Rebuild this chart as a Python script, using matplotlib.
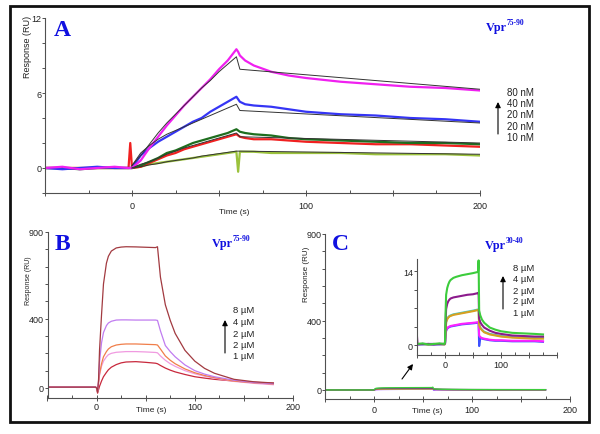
import matplotlib.pyplot as plt
import matplotlib.patches as patches
from matplotlib.ticker import MultipleLocator

plt.rcParams['font.family'] = ['Liberation Sans', 'DejaVu Sans']

# ---- panel A: Vpr75-90, nM series (RU vs s) ----
t_a = [-50, -40, -30, -20, -10, -2, -1, 0, 5, 10, 15, 20, 25, 30, 35, 40, 45, 50, 55,
       60, 61, 62, 65, 70, 80, 90, 100, 120, 140, 160, 180, 200]
a_80nM = [0, 0.1, -0.1, 0, 0.1, 0, 0, 0, 0.6, 1.6, 2.5, 3.4, 4.2, 5.0, 5.7, 6.4, 7.1, 7.9, 8.6,
          9.5, 9.3, 9.0, 8.6, 8.2, 7.7, 7.4, 7.2, 6.9, 6.7, 6.5, 6.4, 6.2]
a_40nM = [0, -0.1, 0, 0.1, 0, 0, 0, 0, 1.0, 1.6, 2.1, 2.5, 2.9, 3.3, 3.7, 4.0, 4.5, 4.9, 5.3,
          5.7, 5.5, 5.3, 5.1, 5.0, 4.9, 4.7, 4.5, 4.3, 4.2, 4.0, 3.9, 3.7]
a_20nM_g = [0, 0, -0.1, 0, 0, 0, 0, 0, 0.2, 0.5, 0.8, 1.2, 1.4, 1.7, 2.0, 2.2, 2.4, 2.6, 2.8,
            3.1, 3.0, 2.9, 2.8, 2.7, 2.6, 2.4, 2.3, 2.2, 2.1, 2.0, 2.0, 1.9]
a_20nM_r = [0, 0, 0, 0, 0, 0, 2.0, 0, 0.1, 0.4, 0.7, 1.0, 1.2, 1.5, 1.7, 1.9, 2.1, 2.3, 2.5,
            2.7, 2.6, 2.5, 2.4, 2.3, 2.3, 2.2, 2.1, 2.0, 1.9, 1.9, 1.8, 1.7]
a_10nM = [0, 0, 0, 0, 0, 0, 0, 0, 0.1, 0.3, 0.4, 0.5, 0.6, 0.7, 0.8, 0.9, 1.0, 1.1, 1.2,
          1.3, -0.3, 1.3, 1.3, 1.3, 1.2, 1.2, 1.2, 1.2, 1.1, 1.1, 1.1, 1.0]
fit_t = [0, 5, 10, 15, 20, 25, 30, 35, 40, 45, 50, 55, 60, 62, 200]
fit_80 = [0.2, 1.0, 1.9, 2.8, 3.6, 4.3, 5.0, 5.7, 6.4, 7.0, 7.7, 8.3, 8.9, 7.9, 6.3]
fit_40 = [0.2, 1.2, 1.8, 2.3, 2.7, 3.0, 3.3, 3.6, 3.9, 4.2, 4.5, 4.8, 5.1, 4.6, 3.6]
fit_20 = [0, 0.3, 0.5, 0.8, 1.1, 1.35, 1.6, 1.8, 2.0, 2.2, 2.4, 2.6, 2.8, 2.5, 2.0]
fit_10 = [0, 0.1, 0.25, 0.35, 0.5, 0.6, 0.7, 0.8, 0.95, 1.05, 1.15, 1.25, 1.35, 1.35, 1.1]

# ---- panel B: Vpr75-90, uM series ----
t_b = [-50, -30, -10, -1, 0, 1, 2, 3, 5, 7, 10, 12, 15, 20, 25, 30, 40, 50, 60, 62,
       65, 70, 75, 80, 90, 100, 110, 120, 140, 160, 180]
b_8uM = [5, 5, 5, 5, 0, -25, 50, 220, 420, 600, 720, 760, 790, 808, 813, 815, 814, 812, 810, 815,
         640, 480, 390, 315, 217, 155, 113, 85, 50, 36, 29]
b_4uM = [5, 5, 5, 5, 0, -20, 40, 150, 260, 320, 360, 375, 385, 392, 393, 393, 392, 392, 392, 390,
         330, 245, 210, 180, 133, 100, 80, 65, 45, 32, 25]
b_2uM_o = [5, 5, 5, 5, 0, -20, 30, 80, 140, 180, 210, 225, 238, 248, 252, 254, 254, 252, 250, 248,
           225, 185, 160, 140, 110, 88, 72, 60, 40, 30, 23]
b_2uM_p = [5, 5, 5, 5, 0, -20, 30, 75, 125, 155, 180, 192, 200, 206, 208, 210, 210, 208, 205, 203,
           185, 160, 140, 125, 100, 82, 68, 57, 38, 27, 19]
b_1uM = [5, 5, 5, 5, 0, -30, -10, 10, 40, 65, 90, 105, 120, 135, 145, 150, 152, 148, 143, 140,
         130, 115, 103, 93, 78, 65, 57, 50, 40, 33, 28]

# ---- panel C: Vpr30-40, uM series (also shown in inset) ----
t_c = [-50, -49, -40, -30, -20, -10, -1, 0, 1, 2, 4, 6, 8, 10, 15, 20, 30, 40, 50, 58, 59,
       60, 61, 63, 66, 70, 80, 90, 100, 120, 140, 160, 175]
c_8uM = [0.2, 0.2, 0.3, 0.1, 0.2, 0.3, 0.2, 0.5, 6.0, 9.5, 10.8, 11.5, 12.0, 12.3, 12.7, 12.9, 13.2,
         13.4, 13.6, 13.8, 13.9, 16.0, 6.5, 5.6, 4.8, 4.2, 3.3, 2.9, 2.6, 2.3, 2.2, 2.1, 2.0]
c_4uM = [1.6, 0.1, 0.2, 0.2, 0.1, 0.2, 0.2, 0.4, 4.0, 6.8, 7.8, 8.3, 8.6, 8.8, 9.0, 9.1, 9.3,
         9.5, 9.6, 9.8, 9.8, 9.9, 5.0, 4.3, 3.8, 3.3, 2.7, 2.3, 2.1, 1.8, 1.7, 1.6, 1.6]
c_2uM_c = [0.2, 0.2, 0.1, 0.2, 0.2, 0.1, 0.2, 0.3, 2.6, 4.4, 5.0, 5.3, 5.5, 5.6, 5.8, 5.9, 6.1,
           6.3, 6.5, 6.7, 6.7, 6.7, 3.9, 3.3, 2.9, 2.5, 2.1, 1.9, 1.7, 1.5, 1.4, 1.3, 1.3]
c_2uM_y = [0.2, 0.2, 0.2, 0.1, 0.2, 0.2, 0.1, 0.3, 2.5, 4.3, 4.9, 5.2, 5.4, 5.5, 5.7, 5.8, 6.0,
           6.2, 6.4, 6.6, 6.6, 6.6, 3.8, 3.2, 2.8, 2.4, 2.0, 1.8, 1.6, 1.4, 1.3, 1.2, 1.2]
c_1uM_b = [0.1, 0.1, 0.2, 0.1, 0.1, 0.2, 0.1, 0.2, 1.7, 2.7, 3.1, 3.3, 3.4, 3.5, 3.6, 3.7, 3.9,
           4.0, 4.1, 4.2, 4.2, 4.2, -0.2, 1.4, 1.2, 1.1, 0.9, 0.8, 0.8, 0.7, 0.7, 0.7, 0.6]
c_1uM_m = [0.2, 0.2, 0.1, 0.2, 0.2, 0.1, 0.2, 0.2, 1.8, 2.8, 3.2, 3.4, 3.5, 3.6, 3.7, 3.8, 4.0,
           4.1, 4.2, 4.3, 4.3, 4.3, 1.8, 1.5, 1.3, 1.2, 1.0, 0.9, 0.9, 0.8, 0.8, 0.8, 0.7]

labels_nM = ['80 nM', '40 nM', '20 nM', '20 nM', '10 nM']
labels_uM = ['8 µM', '4 µM', '2 µM', '2 µM', '1 µM']

W, H = 600, 435
fig = plt.figure(figsize=(6, 4.35), dpi=100)


def fx(x):
    return x / W


def fy(y):
    return 1 - y / H


def add_axes(l, r, t, b):
    return fig.add_axes([fx(l), fy(b), (r - l) / W, (b - t) / H])


def style(ax, pad_x, pad_y):
    for s in ['top', 'right']:
        ax.spines[s].set_visible(False)
    for s in ['left', 'bottom']:
        ax.spines[s].set_color('#505050')
        ax.spines[s].set_linewidth(0.8)
    ax.tick_params(axis='x', which='major', direction='inout', length=4, width=0.7,
                   color='#505050', labelsize=6.5, pad=pad_x, labelcolor='#222222')
    ax.tick_params(axis='x', which='minor', direction='in', length=2, width=0.7, color='#505050')
    ax.tick_params(axis='y', which='major', direction='out', length=2, width=0.7,
                   color='#505050', labelsize=6.5, pad=pad_y, labelcolor='#222222')
    ax.tick_params(axis='y', which='minor', direction='out', length=2, width=0.7, color='#505050')
    ax.set_xlim(-50, 200)
    ax.set_xticks([-50, 0, 50, 100, 150, 200], ['', '0', '', '100', '', '200'])
    ax.xaxis.set_minor_locator(MultipleLocator(25))
    ax.set_facecolor('none')


blue = '#1010E0'

# ---------------- panel A ----------------
axA = add_axes(45, 480, 19, 194)
style(axA, 4, 0.5)
axA.set_ylim(-2, 12)
axA.set_yticks([0, 6, 12])
axA.yaxis.set_minor_locator(MultipleLocator(2))
for y, c in [(a_10nM, '#9BC23C'), (a_20nM_r, '#F02020'), (a_20nM_g, '#1E6E1E'),
             (a_40nM, '#3535F5'), (a_80nM, '#F020F0')]:
    axA.plot(t_a, y, color=c, lw=1.6)
for y in [fit_10, fit_20, fit_40, fit_80]:
    axA.plot(fit_t, y, color='#333333', lw=0.7)

# ---------------- panel B ----------------
axB = add_axes(47.5, 293, 233, 399)
style(axB, 1, 0.5)
axB.set_ylim(-57.7, 900)
axB.set_yticks([0, 400, 900])
axB.yaxis.set_minor_locator(MultipleLocator(100))
for y, c in [(b_1uM, '#C8283C'), (b_2uM_p, '#F09AE0'), (b_2uM_o, '#F07E4A'),
             (b_4uM, '#C07CF0'), (b_8uM, '#A23A40')]:
    axB.plot(t_b, y, color=c, lw=0.9)

# ---------------- panel C ----------------
c_series = [(c_1uM_b, '#3C50FF'), (c_1uM_m, '#FF20FF'), (c_2uM_c, '#40C8C8'),
            (c_2uM_y, '#D8A020'), (c_4uM, '#8C1A8C'), (c_8uM, '#3CCC3C')]
axC = add_axes(325, 570, 235, 400)
style(axC, 2.5, 0.5)
axC.set_ylim(-52, 900)
axC.set_yticks([0, 400, 900])
axC.yaxis.set_minor_locator(MultipleLocator(100))
for y, c in c_series:
    axC.plot(t_c, y, color=c, lw=1.0)

axI = add_axes(417, 557, 260, 356)
style(axI, 1.5, 0.8)
axI.set_ylim(-1.89, 16.27)
axI.set_yticks([0, 14])
axI.yaxis.set_minor_locator(MultipleLocator(3.5))
axI.set_xticks([-50, 0, 50, 100, 150, 200], ['', '0', '', '100', '', ''])
for y, c in c_series:
    axI.plot(t_c, y, color=c, lw=1.5)

# ---------------- texts ----------------
serif = 'Liberation Serif'
for x, y, s in [(62, 31, 'A'), (62, 244, 'B'), (340, 245, 'C')]:
    fig.text(fx(x), fy(y), s, fontsize=17, fontweight='bold', family=serif, color=blue,
             ha='center', va='center')
for x, y, sup in [(486, 28, '75-90'), (212, 244, '75-90'), (485, 246, '30-40')]:
    fig.text(fx(x), fy(y), 'Vpr', fontsize=8.8, fontweight='bold', family=serif, color=blue,
             ha='left', va='center')
    fig.text(fx(x + 21), fy(y - 5), sup, fontsize=5.5, fontweight='bold', family=serif,
             color=blue, ha='left', va='center')

for x, y, fs in [(27, 47, 6.5), (28, 281, 5.0), (306, 274, 5.8)]:
    fig.text(fx(x), fy(y), 'Response (RU)', rotation=90, fontsize=fs, color='#222222',
             ha='center', va='center')
for x, y in [(234, 213), (151, 411), (427, 412)]:
    fig.text(fx(x), fy(y), 'Time (s)', fontsize=6, color='#222222', ha='center', va='center')


def legend(x_txt, ys, labels, x_arr, y_tail, y_head, fs):
    for y, s in zip(ys, labels):
        fig.text(fx(x_txt), fy(y), s, fontsize=fs, color='#222222', ha='left', va='center')
    axA.annotate('', xy=(fx(x_arr), fy(y_head)), xytext=(fx(x_arr), fy(y_tail)),
                 xycoords='figure fraction', textcoords='figure fraction',
                 arrowprops=dict(arrowstyle='-|>', color='black', lw=0.8,
                                 mutation_scale=8, shrinkA=0, shrinkB=0))


legend(507, [93, 104, 115, 127, 138], labels_nM, 498, 135, 103, 7)
legend(233, [311, 323, 335, 346, 357], labels_uM, 225, 354, 321, 6.8)
legend(513, [269, 280, 291, 302, 313], labels_uM, 503, 310, 277, 6.8)

# arrow pointing to the inset region
axA.annotate('', xy=(fx(413), fy(365)), xytext=(fx(402), fy(380)),
             xycoords='figure fraction', textcoords='figure fraction',
             arrowprops=dict(arrowstyle='-|>', color='black', lw=0.8,
                             mutation_scale=8, shrinkA=0, shrinkB=0))

# outer frame
fig.add_artist(patches.Rectangle((fx(10), fy(423)), 579 / W, 416 / H,
                                 transform=fig.transFigure, fill=False,
                                 lw=2, ec='#111111'))

fig.savefig('out.png', dpi=100)
